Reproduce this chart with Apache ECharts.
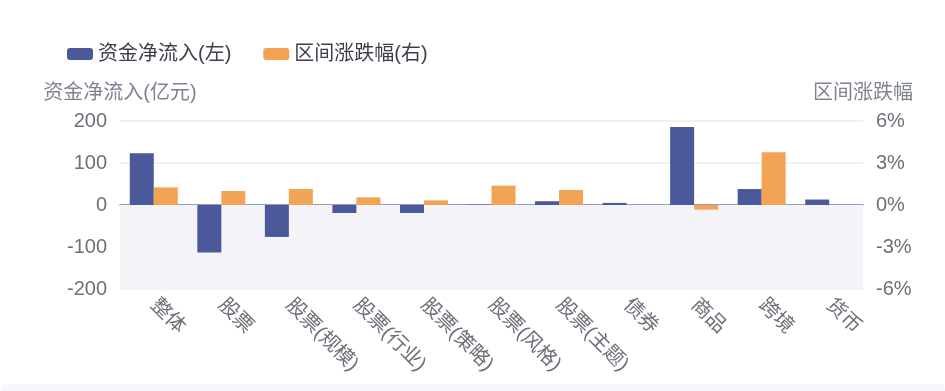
<!DOCTYPE html>
<html>
<head>
<meta charset="utf-8">
<script src="https://cdn.jsdelivr.net/npm/echarts@6/dist/echarts.min.js"></script>
<style>
html,body{margin:0;padding:0;background:#fff;}
#band{position:absolute;left:1px;top:384px;width:944px;height:12px;background:#f6f6fb;border-radius:6px;}
#chart{position:absolute;left:0;top:0;width:945px;height:391px;}
</style>
</head>
<body>
<div id="band"></div>
<div id="chart"></div>
<script>
const categories = ['整体','股票','股票(规模)','股票(行业)','股票(策略)','股票(风格)','股票(主题)','债券','商品','跨境','货币'];
const netInflow = [123, -113, -76, -19, -19, 1, 9, 5, 186, 38, 13];
const rangeChange = [1.26, 1.0, 1.14, 0.55, 0.33, 1.38, 1.07, 0, -0.33, 3.76, 0];
const leftTicks = {min: -200, max: 200, interval: 100};
const rightTicks = {min: -6, max: 6, interval: 3};

const chart = echarts.init(document.getElementById('chart'));
const textColor = '#6e7079';
const font = '"Liberation Sans", "Noto Sans CJK SC", sans-serif';
chart.setOption({
  animation: false,
  textStyle: {fontFamily: font},
  legend: {
    left: 62, top: 39,
    itemWidth: 26, itemHeight: 12, itemGap: 32,
    textStyle: {fontSize: 20, color: '#3d3f4c', fontFamily: font},
    data: ['资金净流入(左)', '区间涨跌幅(右)']
  },
  grid: {left: 120, right: 82, top: 121, bottom: 102},
  xAxis: {
    type: 'category',
    data: categories,
    axisTick: {show: false},
    axisLine: {lineStyle: {color: '#7b80a8', width: 1.5}},
    axisLabel: {interval: 0, rotate: -45, fontSize: 20, color: textColor, margin: 13, fontFamily: font}
  },
  yAxis: [{
    type: 'value',
    name: '资金净流入(亿元)',
    nameGap: 18,
    nameTextStyle: {fontSize: 20, color: '#7f8391', fontFamily: font},
    min: leftTicks.min, max: leftTicks.max, interval: leftTicks.interval,
    axisLabel: {fontSize: 20, color: textColor, margin: 13, fontFamily: font},
    axisLine: {show: false}, axisTick: {show: false},
    splitLine: {lineStyle: {color: '#ebebf3', width: 1.5}}
  }, {
    type: 'value',
    name: '区间涨跌幅',
    nameGap: 18,
    nameTextStyle: {fontSize: 20, color: '#7f8391', fontFamily: font},
    min: rightTicks.min, max: rightTicks.max, interval: rightTicks.interval,
    axisLabel: {fontSize: 20, color: textColor, margin: 13, formatter: '{value}%', fontFamily: font},
    axisLine: {show: false}, axisTick: {show: false},
    splitLine: {show: false}
  }],
  series: [{
    name: '资金净流入(左)',
    type: 'bar',
    yAxisIndex: 0,
    data: netInflow,
    barWidth: 24,
    barGap: '0%',
    itemStyle: {color: '#4b5899'},
    markArea: {
      silent: true,
      itemStyle: {color: '#f4f4f8'},
      data: [[{yAxis: 0}, {yAxis: -200}]]
    }
  }, {
    name: '区间涨跌幅(右)',
    type: 'bar',
    yAxisIndex: 1,
    data: rangeChange,
    barWidth: 24,
    barGap: '0%',
    itemStyle: {color: '#f2a354'}
  }]
});
</script>
</body>
</html>
